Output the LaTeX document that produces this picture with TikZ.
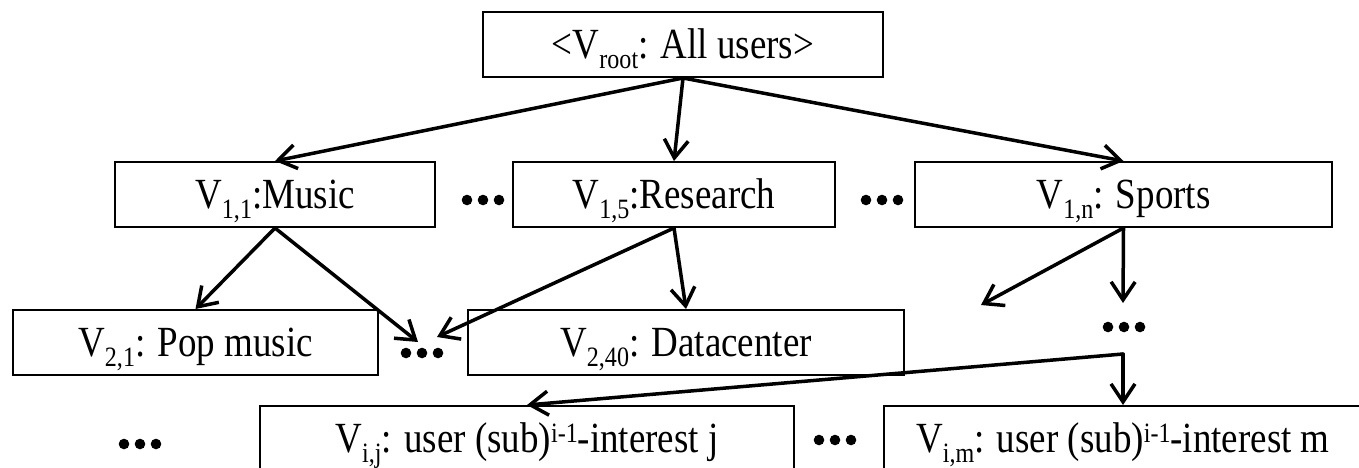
\documentclass[tikz,border=0pt]{standalone}
\usepackage{fontspec}
\setmainfont{Liberation Serif}[FakeStretch=0.86]
\usetikzlibrary{arrows.meta}
\newcommand{\sbs}[1]{\raisebox{-10pt}{\fontsize{28}{28}\selectfont #1}}
\newcommand{\sps}[1]{\raisebox{10pt}{\fontsize{28}{28}\selectfont #1}}
\begin{document}
\begin{tikzpicture}[x=1pt,y=-1pt,
  box/.style={draw, line width=2pt, minimum height=65pt, inner sep=0pt,
    text height=28.5pt, text depth=0pt, font=\fontsize{43}{50}\selectfont},
  arr/.style={line width=3.5pt, line cap=round,
    -{Straight Barb[length=18pt,width=24pt]}}]
\useasboundingbox (0,0) rectangle (1359,467);
% boxes
\node[box, minimum width=400pt] (root) at (683,44.5) {<V\sbs{root}: All users>};
\node[box, minimum width=320pt] (music) at (275,194.5) {V\sbs{1,1}:Music};
\node[box, minimum width=322pt] (research) at (674,194.5) {V\sbs{1,5}:Research};
\node[box, minimum width=417pt] (sports) at (1123.5,194.5) {V\sbs{1,n}: Sports};
\node[box, minimum width=365pt] (pop) at (195.5,342.5) {V\sbs{2,1}: Pop music};
\node[box, minimum width=436pt] (dc) at (686,342.5) {V\sbs{2,40}: Datacenter};
\node[box, minimum width=534pt] (vij) at (527,438.5) {V\sbs{i,j}: user (sub)\sps{i-1}-interest j};
\node[box, minimum width=478pt] (vim) at (1123,438.5) {V\sbs{i,m}: user (sub)\sps{i-1}-interest m};
% dots
\coordinate (d1) at (483,200);
\coordinate (d2) at (882,200);
\coordinate (d3) at (422,353);
\coordinate (d4) at (1124,327);
\coordinate (d5) at (140,444);
\coordinate (d6) at (835,440);
\foreach \c in {d1,d2,d3,d4,d5,d6}{
  \foreach \dx in {-16,0,16} \fill ([xshift=\dx pt]\c) circle (5.3pt);
}
% free ends
\coordinate (t1) at (418,342);
\coordinate (t2) at (437,337);
\coordinate (t3) at (981,305);
\coordinate (t4) at (1123,303);
\coordinate (j) at (1123,354);
% arrows
\draw[arr] (root.south) -- (music.north);
\draw[arr] (root.south) -- (research.north);
\draw[arr] (root.south) -- (sports.north);
\draw[arr] (music.south) -- (pop.north);
\draw[arr] (music.south) -- (t1);
\draw[arr] (research.south) -- (t2);
\draw[arr] (research.south) -- (dc.north);
\draw[arr] (sports.south) -- (t3);
\draw[arr] (sports.south) -- (t4);
\draw[arr] (j) -- (vij.north);
\draw[arr] (j) -- (vim.north);
\end{tikzpicture}
\end{document}
